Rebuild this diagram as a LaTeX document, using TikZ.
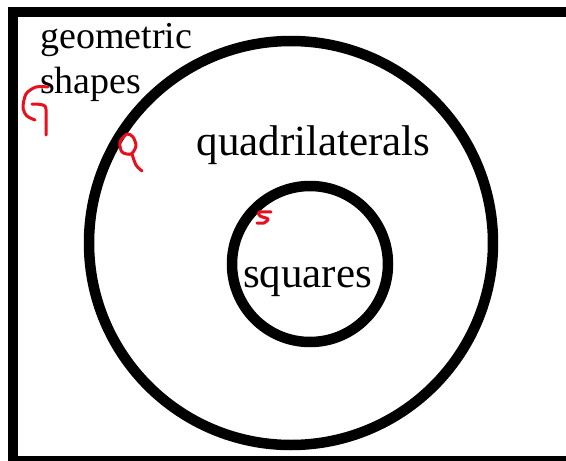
\documentclass[tikz,border=0pt]{standalone}
\usepackage{fontspec}
\setmainfont{Liberation Serif}
\usetikzlibrary{positioning}
\definecolor{inkred}{HTML}{E8101E}
\tikzset{
  setring/.style={draw, circle, line width=10.5pt, inner sep=0pt},
  setlabel/.style={inner sep=0pt, anchor=base, font=\fontsize{43}{50}\selectfont},
  cornerlabel/.style={inner sep=0pt, anchor=base west, font=\fontsize{38}{45}\selectfont},
  scribble/.style={draw=inkred, line width=3pt, line cap=round, line join=round}
}
\begin{document}
\begin{tikzpicture}[x=1pt, y=-1pt]
  \clip (0,0) rectangle (566,461);
  % frame of all shapes
  \draw[line width=10pt] (12.5,12) rectangle (600,461);
  % nested sets
  \node[setring, minimum size=404pt] (quad) at (291,243) {};
  \node[setring, minimum size=156pt] (sq) at (310,264) {};
  % labels
  \node[cornerlabel] (geo) at (40,48) {geometric};
  \node[cornerlabel] (shp) at (40,93) {shapes};
  \node[setlabel] (quadtext) at (313.5,155) {quadrilaterals};
  \node[setlabel] (sqtext) at (307.5,287) {squares};
  % handwritten marks
  \draw[scribble] plot[smooth] coordinates {(48,87) (36,87) (26,94) (23,108) (27,116) (35,120)};
  \draw[scribble] plot[smooth] coordinates {(32,104) (45,106) (46,120) (46,135)};
  \draw[scribble] plot[smooth cycle] coordinates {(127,134) (120,142) (122,152) (131,154) (136,146) (133,137)};
  \draw[scribble] plot[smooth] coordinates {(132,154) (136,165) (142,171)};
  \draw[scribble] plot[smooth] coordinates {(271,212) (259,212) (260,216) (268,219) (264,223) (257,223)};
\end{tikzpicture}
\end{document}
